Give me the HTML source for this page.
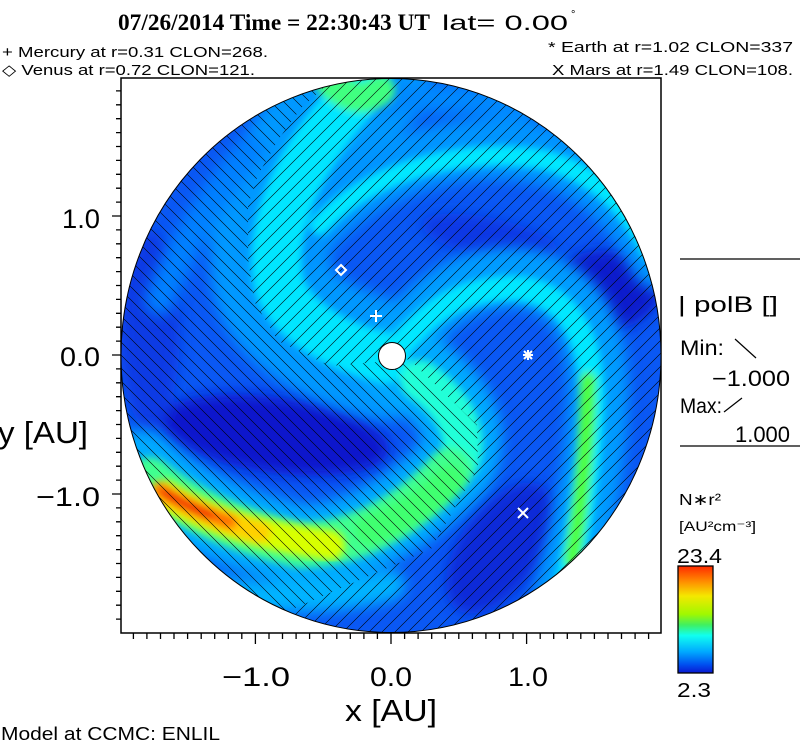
<!DOCTYPE html>
<html><head><meta charset="utf-8">
<style>
html,body{margin:0;padding:0;background:#fff;}
body{width:800px;height:746px;position:relative;overflow:hidden;font-family:"Liberation Sans",sans-serif;}
svg{position:absolute;left:0;top:0;}
</style></head>
<body>
<svg width="800" height="746" viewBox="0 0 800 746" xmlns="http://www.w3.org/2000/svg">
<defs>
  <clipPath id="circ"><ellipse cx="391" cy="355.5" rx="270" ry="277"/></clipPath>
  <clipPath id="neg"><path d="M338,60 L330,82 L301,108 L278,140 L258,175 L248,205 L248,258 L254,301 L278,341 L330,366 L378,362 L392,356 L410,360 L477,425 L478,468 L431,549 L286,612 L280,700 L0,700 L0,60 Z"/></clipPath>
  <clipPath id="pos"><path d="M338,60 L330,82 L301,108 L278,140 L258,175 L248,205 L248,258 L254,301 L278,341 L330,366 L378,362 L392,356 L410,360 L477,425 L478,468 L431,549 L286,612 L280,700 L800,700 L800,60 Z"/></clipPath>
  <filter id="bl" x="-30%" y="-30%" width="160%" height="160%"><feGaussianBlur stdDeviation="7"/></filter>
  <filter id="bl2" x="-30%" y="-30%" width="160%" height="160%"><feGaussianBlur stdDeviation="4"/></filter>
  <pattern id="hp" patternUnits="userSpaceOnUse" width="13" height="13">
    <path d="M-1,14 L14,-1 M-1,1 L1,-1 M12,14 L14,12" stroke="#000" stroke-width="0.6"/>
  </pattern>
  <pattern id="hn" patternUnits="userSpaceOnUse" width="13" height="13">
    <path d="M-1,-1 L14,14 M12,-1 L14,1 M-1,12 L1,14" stroke="#000" stroke-width="0.6"/>
  </pattern>
  <linearGradient id="cb" x1="0" y1="0" x2="0" y2="1">
    <stop offset="0" stop-color="#ff2a00"/>
    <stop offset="0.15" stop-color="#ff9000"/>
    <stop offset="0.28" stop-color="#f4e800"/>
    <stop offset="0.45" stop-color="#a0f800"/>
    <stop offset="0.55" stop-color="#40f060"/>
    <stop offset="0.65" stop-color="#10fff0"/>
    <stop offset="0.8" stop-color="#00aaff"/>
    <stop offset="0.92" stop-color="#0050f0"/>
    <stop offset="1" stop-color="#0a18d0"/>
  </linearGradient>
</defs>

<rect x="121" y="78" width="540" height="555" fill="none" stroke="#000" stroke-width="1.5"/>

<g clip-path="url(#circ)">
  <rect x="110" y="70" width="560" height="570" fill="#0a58f4"/>
  <g filter="url(#bl)">
    <ellipse cx="275" cy="435" rx="115" ry="38" fill="#0a18cc" transform="rotate(8 275 435)"/>
    <ellipse cx="150" cy="330" rx="30" ry="100" fill="#0a3ae4"/>
    <ellipse cx="500" cy="548" rx="40" ry="75" fill="#0a2ad8" transform="rotate(35 500 548)"/>
    <ellipse cx="605" cy="290" rx="55" ry="40" fill="#0a1ccc"/>
    <ellipse cx="490" cy="238" rx="70" ry="20" fill="#0a38e4" transform="rotate(12 490 238)"/>
  </g>
  <g fill="none" stroke-linecap="round" stroke-linejoin="round" filter="url(#bl)">
    <path d="M385,360 C330,345 280,320 272,280 C262,220 290,150 370,80" stroke="#0098ff" stroke-width="120"/>
    <path d="M300,240 C360,165 470,130 560,160 C610,180 640,220 660,260" stroke="#0094ff" stroke-width="60"/>
    <path d="M400,345 C430,300 470,275 520,278 C580,285 600,340 598,400 C596,470 580,540 560,610" stroke="#009cff" stroke-width="60"/>
    <path d="M140,470 C180,505 230,530 300,545 C360,545 420,505 455,465 C475,430 450,390 400,362" stroke="#00aaff" stroke-width="80"/>
    <path d="M200,588 C260,600 330,602 390,585" stroke="#00b4ff" stroke-width="30"/>
    <path d="M380,100 C440,95 500,100 520,110" stroke="#0088ff" stroke-width="30"/>
    <path d="M160,300 C185,240 210,200 250,150" stroke="#0080ff" stroke-width="30"/>
  </g>
  <g fill="none" stroke-linecap="round" stroke-linejoin="round" filter="url(#bl2)">
    <path d="M385,358 C330,345 285,315 278,280 C270,225 295,160 365,85" stroke="#00e6ff" stroke-width="50"/>
    <path d="M320,225 C370,170 470,145 545,160 C600,175 630,210 650,250" stroke="#00e8ff" stroke-width="20"/>
    <path d="M405,340 C435,305 470,288 515,288 C570,292 592,340 592,400 C590,470 578,540 562,605" stroke="#00e8ff" stroke-width="25"/>
    <path d="M420,380 C450,400 470,430 460,460" stroke="#20ffd8" stroke-width="40"/>
    <path d="M150,480 C190,510 240,532 300,545 C360,545 415,510 450,470" stroke="#40ff90" stroke-width="45"/>
    <path d="M330,82 C345,95 360,105 380,90" stroke="#40ff80" stroke-width="30"/>
    <path d="M588,380 C588,440 582,500 572,560" stroke="#50ff40" stroke-width="16"/>
    <path d="M370,530 C400,520 430,500 450,480" stroke="#40ff70" stroke-width="30"/>
  </g>
  <g fill="none" stroke-linecap="round" stroke-linejoin="round" filter="url(#bl2)">
    <path d="M165,495 C200,515 250,535 330,545" stroke="#d8ff00" stroke-width="30"/>
    <path d="M160,492 C190,508 220,522 260,532" stroke="#ffd000" stroke-width="22"/>
    <path d="M160,490 C180,502 200,512 230,522" stroke="#ff7000" stroke-width="14"/>
    <path d="M165,493 C180,502 195,510 210,515" stroke="#f02000" stroke-width="8"/>
  </g>
  <rect x="110" y="70" width="560" height="570" fill="url(#hp)" clip-path="url(#pos)"/>
  <rect x="110" y="70" width="560" height="570" fill="url(#hn)" clip-path="url(#neg)"/>
</g>
<ellipse cx="391" cy="355.5" rx="270" ry="277" fill="none" stroke="#000" stroke-width="1"/>

<circle cx="392" cy="356" r="13.5" fill="#fff" stroke="#000" stroke-width="1"/>
<g stroke="#fff" stroke-width="2" fill="none">
  <path d="M370,316 H382 M376,310 V322"/>
  <path d="M341,265 L346,270 L341,275 L336,270 Z"/>
  <path d="M523,355 H533 M528,350 V360 M524,351 L532,359 M532,351 L524,359"/>
  <path d="M518,508 L528,518 M528,508 L518,518"/>
</g>

<g stroke="#000" stroke-width="1.3" fill="none">
  <path d="M133.4,633v6 M146.9,633v6 M160.5,633v6 M174,633v6 M187.6,633v6 M201.2,633v6 M214.7,633v6 M228.3,633v6 M241.8,633v6 M255.4,633v11 M269,633v6 M282.5,633v6 M296.1,633v6 M309.6,633v6 M323.2,633v6 M336.8,633v6 M350.3,633v6 M363.9,633v6 M377.4,633v6 M391,633v11 M404.6,633v6 M418.1,633v6 M431.7,633v6 M445.2,633v6 M458.8,633v6 M472.4,633v6 M485.9,633v6 M499.5,633v6 M513,633v6 M526.6,633v11 M540.2,633v6 M553.7,633v6 M567.3,633v6 M580.8,633v6 M594.4,633v6 M608,633v6 M621.5,633v6 M635.1,633v6 M648.6,633v6"/>
  <path d="M121,90.9h-5 M121,104.8h-5 M121,118.7h-5 M121,132.6h-5 M121,146.5h-5 M121,160.4h-5 M121,174.3h-5 M121,188.2h-5 M121,202.1h-5 M121,216h-9 M121,229.9h-5 M121,243.8h-5 M121,257.7h-5 M121,271.6h-5 M121,285.5h-5 M121,299.4h-5 M121,313.3h-5 M121,327.2h-5 M121,341.1h-5 M121,355h-9 M121,368.9h-5 M121,382.8h-5 M121,396.7h-5 M121,410.6h-5 M121,424.5h-5 M121,438.4h-5 M121,452.3h-5 M121,466.2h-5 M121,480.1h-5 M121,494h-9 M121,507.9h-5 M121,521.8h-5 M121,535.7h-5 M121,549.6h-5 M121,563.5h-5 M121,577.4h-5 M121,591.3h-5 M121,605.2h-5 M121,619.1h-5"/>
</g>

<g font-family="Liberation Sans, sans-serif" fill="#000">
  <text x="118" y="30" font-family="Liberation Serif, serif" font-weight="bold" font-size="23" textLength="312" lengthAdjust="spacingAndGlyphs">07/26/2014 Time = 22:30:43 UT</text>
  <text x="442" y="30" font-size="21" textLength="126" lengthAdjust="spacingAndGlyphs">lat= 0.00</text>
  <text x="571" y="18" font-size="11">°</text>
  <text x="2" y="57" font-size="15" textLength="266" lengthAdjust="spacingAndGlyphs">+ Mercury at r=0.31 CLON=268.</text>
  <text x="2" y="75" font-size="15" textLength="253" lengthAdjust="spacingAndGlyphs">◇ Venus at r=0.72 CLON=121.</text>
  <text x="548" y="52" font-size="15" textLength="245" lengthAdjust="spacingAndGlyphs">* Earth at  r=1.02 CLON=337</text>
  <text x="552" y="75" font-size="15" textLength="241" lengthAdjust="spacingAndGlyphs">X Mars at r=1.49 CLON=108.</text>

  <text x="62" y="228" font-size="27" textLength="38" lengthAdjust="spacingAndGlyphs">1.0</text>
  <text x="60" y="366" font-size="27" textLength="40" lengthAdjust="spacingAndGlyphs">0.0</text>
  <text x="36" y="506" font-size="27" textLength="64" lengthAdjust="spacingAndGlyphs">−1.0</text>
  <text x="-2" y="443" font-size="31" textLength="90" lengthAdjust="spacingAndGlyphs">y [AU]</text>
  <text x="222" y="686" font-size="27" textLength="68" lengthAdjust="spacingAndGlyphs">−1.0</text>
  <text x="370" y="686" font-size="27" textLength="42" lengthAdjust="spacingAndGlyphs">0.0</text>
  <text x="508" y="686" font-size="27" textLength="40" lengthAdjust="spacingAndGlyphs">1.0</text>
  <text x="345" y="721" font-size="31" textLength="92" lengthAdjust="spacingAndGlyphs">x [AU]</text>
  <text x="1" y="740" font-size="18" textLength="219" lengthAdjust="spacingAndGlyphs">Model at CCMC: ENLIL</text>

  <line x1="680" y1="259" x2="800" y2="259" stroke="#000" stroke-width="1.3"/>
  <text x="678" y="312" font-size="22" textLength="100" lengthAdjust="spacingAndGlyphs">| polB []</text>
  <text x="680" y="355" font-size="21" textLength="44" lengthAdjust="spacingAndGlyphs">Min:</text>
  <path d="M735,339 L756,358" stroke="#000" stroke-width="1.2"/>
  <text x="712" y="386" font-size="22" textLength="78" lengthAdjust="spacingAndGlyphs">−1.000</text>
  <text x="680" y="413" font-size="21" textLength="42" lengthAdjust="spacingAndGlyphs">Max:</text>
  <path d="M724,412 L742,398" stroke="#000" stroke-width="1.2"/>
  <text x="735" y="442" font-size="22" textLength="55" lengthAdjust="spacingAndGlyphs">1.000</text>
  <line x1="680" y1="446" x2="800" y2="446" stroke="#000" stroke-width="1.3"/>
  <text x="679" y="505" font-size="16" textLength="42" lengthAdjust="spacingAndGlyphs">N∗r²</text>
  <text x="679" y="531" font-size="14" textLength="77" lengthAdjust="spacingAndGlyphs">[AU²cm⁻³]</text>
  <text x="677" y="563" font-size="20" textLength="45" lengthAdjust="spacingAndGlyphs">23.4</text>
  <text x="677" y="697" font-size="20" textLength="34" lengthAdjust="spacingAndGlyphs">2.3</text>
</g>

<rect x="678" y="566" width="35" height="107" fill="url(#cb)" stroke="#000" stroke-width="1.3"/>
</svg>
</body></html>
